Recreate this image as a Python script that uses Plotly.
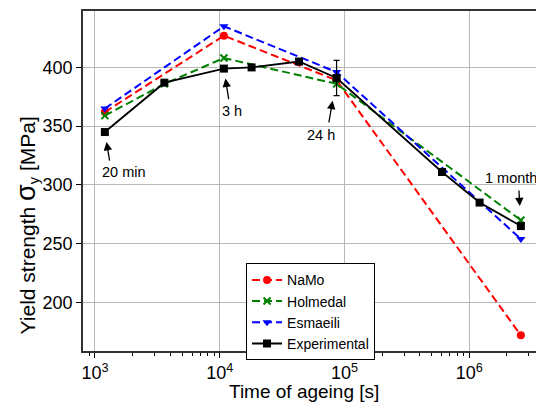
import math
import plotly.graph_objects as go

# ---- data ----
time_exp = [1200, 3600, 10800, 18000, 43200, 86400, 604800, 1209600, 2592000]
sigma_exp = [345, 387, 399, 400, 405, 391, 311, 285, 265]
err_exp = [0, 0, 0, 0, 0, 15, 0, 0, 0]

time_namo = [1200, 10800, 86400, 2592000]
sigma_namo = [362, 427, 389, 172]

time_holmedal = [1200, 3600, 10800, 86400, 2592000]
sigma_holmedal = [359, 386, 408, 386, 270]

time_esmaeili = [1200, 10800, 86400, 2592000]
sigma_esmaeili = [365, 435, 396, 254]

x_ticks = [1e3, 1e4, 1e5, 1e6]
x_ticktext = ["10<sup>3</sup>", "10<sup>4</sup>", "10<sup>5</sup>", "10<sup>6</sup>"]
x_minor = [m * 10 ** e for e in range(2, 7) for m in range(2, 10)]
y_ticks = [200, 250, 300, 350, 400]

labels = ["20 min", "3 h", "24 h", "1 month"]
label_times = [1200, 10800, 86400, 2592000]
label_sigmas = [345, 399, 391, 265]

FONT = "Liberation Sans, Arial, sans-serif"

fig = go.Figure()
dash = "8px,4px"
fig.add_trace(go.Scatter(
    x=time_namo, y=sigma_namo, name="NaMo", mode="lines+markers",
    line=dict(color="#ff0000", width=2, dash=dash),
    marker=dict(symbol="circle", size=8, color="#ff0000")))
fig.add_trace(go.Scatter(
    x=time_holmedal, y=sigma_holmedal, name="Holmedal", mode="lines+markers",
    line=dict(color="#008000", width=2, dash=dash),
    marker=dict(symbol="x-thin", size=7, color="#008000",
                line=dict(width=2, color="#008000"))))
fig.add_trace(go.Scatter(
    x=time_esmaeili, y=sigma_esmaeili, name="Esmaeili", mode="lines+markers",
    line=dict(color="#0000ff", width=2, dash=dash),
    marker=dict(symbol="triangle-down", size=8, color="#0000ff")))
fig.add_trace(go.Scatter(
    x=time_exp, y=sigma_exp, name="Experimental", mode="lines+markers",
    line=dict(color="black", width=1.8),
    marker=dict(symbol="square", size=8, color="black"),
    error_y=dict(type="data", array=err_exp, color="black", thickness=1.2, width=3)))

# arrows (tail offsets in pixels) and labels
arrow_ax = [5, 5, -8, -2]
arrow_ay = [30, 32, 46, -37]
arrow_standoff = [10, 10, 23, 20]
text_dx = [19.5, 8.3, -15.7, -10]
text_dy = [-40.3, -42.8, -57, 47.7]

annotations = []
for i, lab in enumerate(labels):
    lx = math.log10(label_times[i])
    ly = label_sigmas[i]
    annotations.append(dict(
        x=lx, y=ly, xref="x", yref="y", text="", showarrow=True,
        ax=arrow_ax[i], ay=arrow_ay[i], arrowhead=2, arrowsize=1.3,
        arrowwidth=1.3, arrowcolor="black", standoff=arrow_standoff[i]))
    annotations.append(dict(
        x=lx, y=ly, xref="x", yref="y", text=lab, showarrow=False,
        xshift=text_dx[i], yshift=text_dy[i],
        font=dict(size=14.5, color="black", family=FONT)))

annotations.append(dict(
    x=-0.124, y=0.37, xref="paper", yref="paper", textangle=-90,
    text="Yield strength <span style='font-size:27px'>σ</span><sub>y</sub> [MPa]",
    showarrow=False, xanchor="center", yanchor="middle",
    font=dict(size=21, color="black", family=FONT)))
annotations.append(dict(
    x=0.483, y=-0.155, xref="paper", yref="paper",
    text="Time of ageing [s]", showarrow=False, xanchor="center", yanchor="bottom",
    font=dict(size=19, color="black", family=FONT)))

# page body has an 8px margin: shrink the figure so the plot area lands where the reference has it
fig.update_layout(
    width=536, height=396,
    margin=dict(l=75, r=2, t=1, b=53),
    paper_bgcolor="white", plot_bgcolor="white",
    font=dict(family=FONT, color="black"),
    showlegend=True,
    legend=dict(x=0.356, y=0.258, xanchor="left", yanchor="top",
                bordercolor="black", borderwidth=1, bgcolor="white",
                font=dict(size=14, family=FONT)),
    annotations=annotations,
)
fig.update_xaxes(
    type="log", range=[2.904, 6.575], tickvals=x_ticks, ticktext=x_ticktext,
    showgrid=True, gridcolor="#b8b8b8", gridwidth=1,
    ticks="outside", ticklen=5, tickcolor="black", tickwidth=1,
    showline=True, linecolor="#333333", linewidth=1.5, mirror=True,
    minor=dict(tickvals=x_minor, ticks="outside", ticklen=3, tickcolor="black",
               tickwidth=1, showgrid=False),
    tickfont=dict(size=18, family=FONT), zeroline=False)
fig.update_yaxes(
    range=[158.7, 448], tickvals=y_ticks,
    showgrid=True, gridcolor="#b8b8b8", gridwidth=1,
    ticks="outside", ticklen=5, tickcolor="black", tickwidth=1,
    showline=True, linecolor="#333333", linewidth=1.5, mirror=True,
    tickfont=dict(size=18, family=FONT), zeroline=False)

fig.write_html("out.html")
